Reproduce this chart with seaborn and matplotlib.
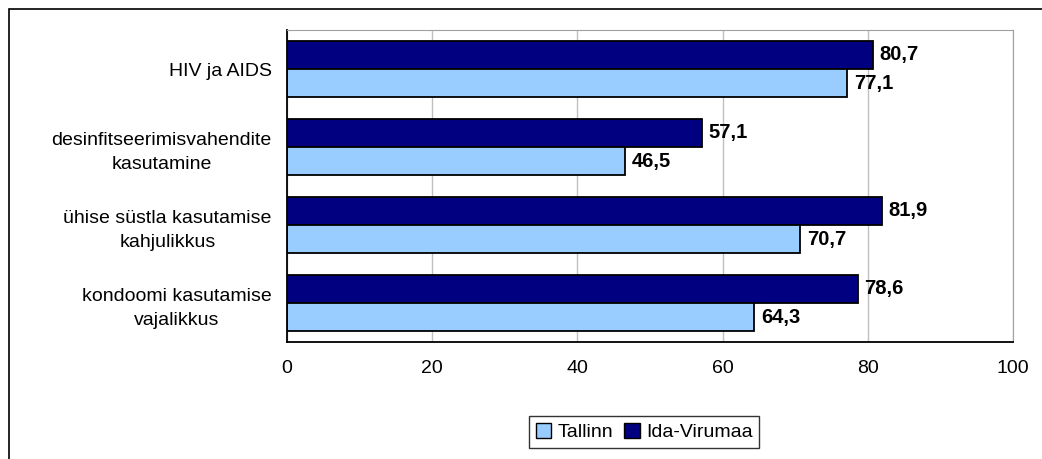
import matplotlib.pyplot as plt
import matplotlib.patches as mpatches
import numpy as np
import pandas as pd
import seaborn as sns

categories = [
    "HIV ja AIDS",
    "desinfitseerimisvahendite\nkasutamine",
    "ühise süstla kasutamise\nkahjulikkus",
    "kondoomi kasutamise\nvajalikkus",
]
tallinn = [77.1, 46.5, 70.7, 64.3]
ida_virumaa = [80.7, 57.1, 81.9, 78.6]
series = ["Tallinn", "Ida-Virumaa"]
colors = {"Tallinn": "#99CCFF", "Ida-Virumaa": "#000080"}

df = pd.DataFrame({
    "category": categories * 2,
    "value": tallinn + ida_virumaa,
    "region": ["Tallinn"] * 4 + ["Ida-Virumaa"] * 4,
})

sns.set_style("white")
plt.rcParams["font.family"] = ["Liberation Sans", "DejaVu Sans"]
plt.rcParams["text.color"] = "black"
plt.rcParams["xtick.color"] = "black"
plt.rcParams["ytick.color"] = "black"

fig = plt.figure(figsize=(10.42, 4.59), dpi=100)
ax = fig.add_axes([287 / 1042, 1 - 342 / 459, (1013 - 287) / 1042, (342 - 30) / 459])

# Ida-Virumaa drawn above Tallinn within each group
sns.barplot(
    data=df, x="value", y="category", hue="region",
    hue_order=["Ida-Virumaa", "Tallinn"], order=categories,
    palette=colors, saturation=1, width=0.72, edgecolor="black",
    linewidth=1.3, orient="h", legend=False, ax=ax,
)

# value labels
for container in ax.containers:
    labels = [f"{v:.1f}".replace(".", ",") for v in container.datavalues]
    ax.bar_label(container, labels=labels, padding=5, fontsize=14.5,
                 fontweight="bold", color="black")

ax.set_xlim(0, 100)
ax.set_ylim(len(categories) - 0.5, -0.5)
ax.set_xticks(np.arange(0, 101, 20))
ax.set_xlabel("")
ax.set_ylabel("")
ax.xaxis.grid(True, color="#C0C0C0", linewidth=1)
ax.set_axisbelow(True)

ax.set_yticks(range(len(categories)))
ax.set_yticklabels(categories, ha="right", multialignment="center",
                   linespacing=1.55)
ax.set_yticks(np.arange(-0.5, len(categories), 1), minor=True)
ax.tick_params(axis="y", which="major", length=0, pad=11, labelsize=14)
ax.tick_params(axis="y", which="minor", length=5, width=1, color="black",
               direction="out")
ax.tick_params(axis="x", which="major", length=5, width=1, color="black",
               direction="out", labelsize=14, pad=8)

for side in ["top", "right"]:
    ax.spines[side].set_color("#A0A0A0")
for side in ["left", "bottom"]:
    ax.spines[side].set_color("black")
    ax.spines[side].set_linewidth(1.3)

# legend
handles = [mpatches.Patch(facecolor=colors[s], edgecolor="black", label=s)
           for s in series]
leg = fig.legend(
    handles=handles, loc="upper left",
    bbox_to_anchor=(529 / 1042, 1 - 416 / 459), ncol=2, frameon=True,
    fontsize=14, handlelength=0.8, handleheight=0.8, handletextpad=0.3,
    columnspacing=0.6, borderpad=0.35, borderaxespad=0, fancybox=False,
)
leg.get_frame().set_edgecolor("black")
leg.get_frame().set_linewidth(1)

# outer chart border
fig.patches.append(mpatches.Rectangle(
    (9 / 1042, -0.1), 1.2, 1 - 9 / 459 + 0.1, transform=fig.transFigure,
    fill=False, edgecolor="black", linewidth=1.2))

fig.savefig("out.png", dpi=100)
